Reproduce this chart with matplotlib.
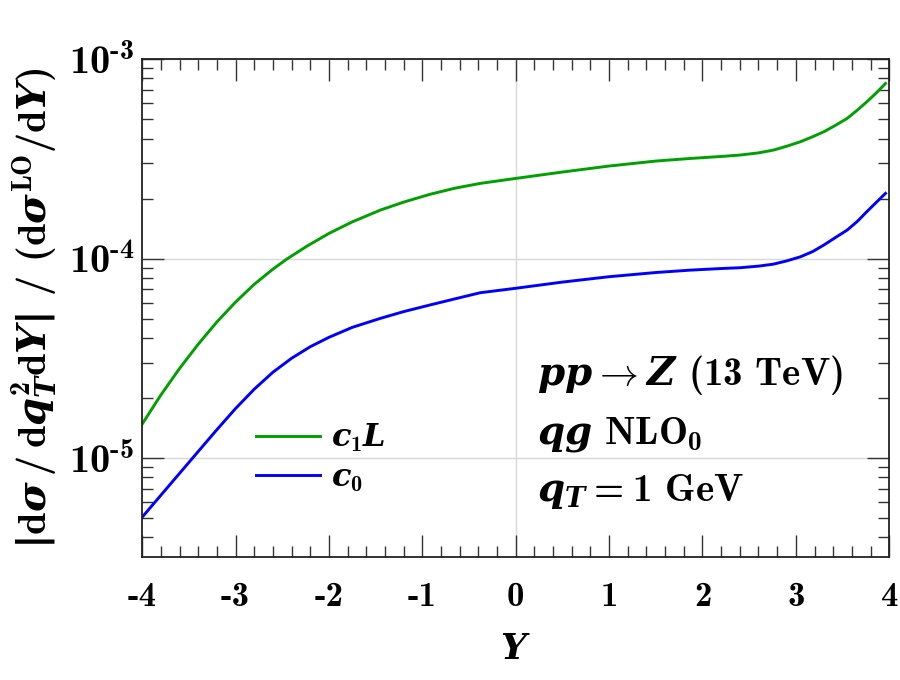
import numpy as np
import matplotlib
matplotlib.use('Agg')
import matplotlib.pyplot as plt
from matplotlib.ticker import MultipleLocator, LogLocator, NullFormatter, FuncFormatter

# fontes: texto em cmb10, matematica italica em negrito
plt.rcParams['font.family'] = 'cmb10'
plt.rcParams['axes.unicode_minus'] = False
plt.rcParams['mathtext.fontset'] = 'custom'
plt.rcParams['mathtext.rm'] = 'cmb10'
plt.rcParams['mathtext.bf'] = 'cmb10'
plt.rcParams['mathtext.it'] = 'DejaVu Serif:italic:bold'
plt.rcParams['mathtext.sf'] = 'DejaVu Serif:bold'

# dados
Y_c1L = [-4.0, -3.8, -3.6, -3.4, -3.2, -3.0, -2.8, -2.6, -2.45, -2.24, -2.0,
         -1.75, -1.45, -1.2, -0.92, -0.65, -0.38, 0.0, 0.5, 1.0, 1.5, 1.87,
         2.2, 2.4, 2.6, 2.76, 2.9, 3.05, 3.18, 3.3, 3.42, 3.55, 3.66, 3.76,
         3.86, 3.96]
c1L = [1.48e-5, 2.07e-5, 2.81e-5, 3.72e-5, 4.81e-5, 6.05e-5, 7.43e-5, 8.85e-5,
       9.95e-5, 1.151e-4, 1.337e-4, 1.528e-4, 1.750e-4, 1.919e-4, 2.099e-4,
       2.254e-4, 2.382e-4, 2.523e-4, 2.716e-4, 2.911e-4, 3.083e-4, 3.177e-4,
       3.251e-4, 3.304e-4, 3.388e-4, 3.499e-4, 3.656e-4, 3.855e-4, 4.083e-4,
       4.325e-4, 4.645e-4, 5.047e-4, 5.559e-4, 6.109e-4, 6.761e-4, 7.551e-4]

Y_c0 = [-4.0, -3.7, -3.45, -3.2, -3.0, -2.8, -2.6, -2.4, -2.2, -2.0, -1.75,
        -1.45, -1.2, -0.92, -0.65, -0.38, 0.0, 0.5, 1.0, 1.5, 1.87, 2.2, 2.4,
        2.6, 2.76, 2.9, 3.05, 3.18, 3.3, 3.42, 3.55, 3.66, 3.76, 3.86, 3.96]
c0 = [5.05e-6, 7.38e-6, 1.012e-5, 1.387e-5, 1.770e-5, 2.213e-5, 2.692e-5,
      3.162e-5, 3.614e-5, 4.027e-5, 4.519e-5, 5.012e-5, 5.420e-5, 5.848e-5,
      6.281e-5, 6.740e-5, 7.096e-5, 7.621e-5, 8.110e-5, 8.511e-5, 8.750e-5,
      8.913e-5, 8.995e-5, 9.162e-5, 9.376e-5, 9.727e-5, 1.021e-4, 1.084e-4,
      1.169e-4, 1.271e-4, 1.390e-4, 1.538e-4, 1.718e-4, 1.910e-4, 2.123e-4]

labels = [r'$c_1L$', r'$c_0$']
info = [r'$pp \rightarrow Z$ (13 TeV)', r'$qg$ NLO$_0$', r'$q_T = $1 GeV']

fig = plt.figure(figsize=(9, 6.8), dpi=100)
ax = fig.add_axes([0.158, 0.181, 0.830, 0.732])

ax.plot(Y_c1L, c1L, color='#00a000', lw=2.1, label=labels[0])
ax.plot(Y_c0, c0, color='#0000ff', lw=2.1, label=labels[1])

ax.set_yscale('log')
ax.set_xlim(-4, 4)
ax.set_ylim(3.19e-6, 1e-3)

ax.xaxis.set_major_locator(MultipleLocator(1))
ax.xaxis.set_minor_locator(MultipleLocator(0.2))
ax.yaxis.set_major_locator(LogLocator(base=10, numticks=10))
ax.yaxis.set_minor_locator(LogLocator(base=10, subs=np.arange(2, 10), numticks=10))
ax.yaxis.set_minor_formatter(NullFormatter())
ax.yaxis.set_major_formatter(FuncFormatter(
    lambda v, p: r'$10^{\text{%d}}$' % int(round(np.log10(v)))))

ax.tick_params(which='both', direction='in', top=True, right=True, color='#333333', width=1.0)
ax.tick_params(which='major', length=16)
ax.tick_params(which='minor', length=8)
ax.tick_params(axis='x', labelsize=25, pad=18)
ax.tick_params(axis='y', labelsize=29, pad=6)

for s in ax.spines.values():
    s.set_linewidth(1.3)
    s.set_color('#222222')

ax.grid(True, axis='y', which='major', color='#d8d8d8', lw=1.0)
ax.axvline(0, color='#d8d8d8', lw=1.0, zorder=0)
ax.set_axisbelow(True)

ax.set_xlabel(r'$Y$', fontsize=26, labelpad=16)
ax.set_ylabel(r'$\mathsf{|}$d$\sigma\,/\,$d$q_T^2$d$Y\mathsf{|}\ /\ ($d$\sigma^{\rm LO}/$d$Y)$',
              fontsize=29, labelpad=6)

ax.text(0.529, 0.365, info[0], transform=ax.transAxes, fontsize=28, va='center')
ax.text(0.529, 0.245, info[1], transform=ax.transAxes, fontsize=28, va='center')
ax.text(0.529, 0.131, info[2], transform=ax.transAxes, fontsize=28, va='center')

ax.legend(loc='center left', bbox_to_anchor=(0.135, 0.199), frameon=False, fontsize=23,
          handlelength=2.0, handletextpad=0.35, labelspacing=0.3, borderaxespad=0)

fig.savefig('out.png', dpi=100)
